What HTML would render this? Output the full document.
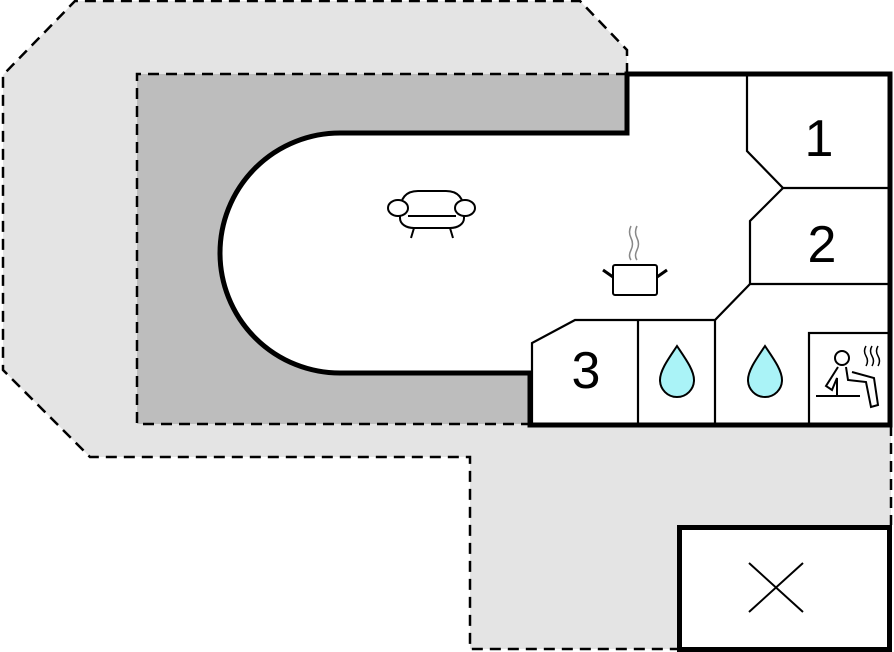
<!DOCTYPE html>
<html><head><style>html,body{margin:0;padding:0;background:#fff}svg{display:block}</style></head>
<body>
<svg width="894" height="652" viewBox="0 0 894 652" xmlns="http://www.w3.org/2000/svg">
<!-- outer terrace -->
<path d="M75,1 L580,1 L627,50 L627,74 L891,74 L891,649 L470,649 L470,457 L90,457 L3,370 L3,75 Z" fill="#e4e4e4"/>
<path d="M627,74 L627,50 L580,1 L75,1 L3,75 L3,370 L90,457 L470,457 L470,649 L677,649 M891,425 L891,525" fill="none" stroke="#000" stroke-width="2.5" stroke-dasharray="11,7"/>
<!-- inner dark terrace -->
<rect x="137" y="74" width="490" height="350" fill="#bdbdbd"/>
<path d="M627,74 L137,74 L137,424 L530,424" fill="none" stroke="#000" stroke-width="2.5" stroke-dasharray="11,7"/>
<!-- building -->
<path d="M627,74 L890,74 L890,425 L530,425 L530,373 L340,373 A120,120 0 0 1 340,133 L627,133 Z" fill="#fff"/>
<path d="M627,74 L890,74 L890,425 L530,425 L530,373 L340,373 A120,120 0 0 1 340,133 L627,133 Z" fill="none" stroke="#000" stroke-width="5" stroke-linejoin="miter"/>
<!-- interior walls -->
<g fill="none" stroke="#000" stroke-width="2.2">
<path d="M747,74 L747,151 L783,188 L890,188"/>
<path d="M783,188 L750,221 L750,284 L890,284"/>
<path d="M750,284 L715,320 L575,320 L532,343 L532,425"/>
<path d="M638,320 L638,425 M715,320 L715,425"/>
<rect x="809" y="333" width="81" height="92"/>
</g>
<g font-family="Liberation Sans, sans-serif" font-size="52" text-anchor="middle" fill="#000">
<text x="819" y="156">1</text>
<text x="822" y="262">2</text>
<text x="586" y="388">3</text>
</g>
<!-- drops -->
<g fill="#aaf3f7" stroke="#000" stroke-width="2">
<path d="M677,346 C669,358 660,370 660,380 A17,17 0 0 0 694,380 C694,370 685,358 677,346 Z"/>
<path d="M765,346 C757,358 748,370 748,380 A17,17 0 0 0 782,380 C782,370 773,358 765,346 Z"/>
</g>
<!-- sauna icon -->
<g fill="none" stroke="#000" stroke-width="2">
<circle cx="842" cy="358" r="7"/>
<path d="M838,367 L826,386 L832,390 L837,378 L837,395"/>
<path d="M846,367 L848,380 L866,382 L871,407 L878,405 L874,378 L852,372"/>
<path d="M816,396 L860,396"/>
<path d="M866,346 q-3,5 0,10 q3,5 0,10 M872,346 q-3,5 0,10 q3,5 0,10 M878,346 q-3,5 0,10 q3,5 0,10" stroke-width="1.5"/>
</g>
<!-- pot -->
<g fill="none" stroke="#000" stroke-width="2">
<rect x="613" y="265" width="44" height="30" rx="2"/>
<path d="M603,270 L613,277 M667,270 L657,277" stroke-width="3"/>
<path d="M631,226 q-3,6 0,12 q3,6 0,12 q-3,6 0,10 M637,226 q-3,6 0,12 q3,6 0,12 q-3,6 0,10" stroke="#888" stroke-width="1.5"/>
</g>
<!-- sofa -->
<g fill="#fff" stroke="#000" stroke-width="2">
<path d="M400,212 C400,196 408,191 418,191 L446,191 C456,191 464,196 464,212 L464,218 C464,224 458,228 450,228 L414,228 C406,228 400,224 400,218 Z"/>
<ellipse cx="398" cy="208" rx="10" ry="8"/>
<ellipse cx="465" cy="208" rx="10" ry="8"/>
<path d="M408,216 L456,216 M414,228 L411,238 M450,228 L453,238" fill="none"/>
</g>
<!-- garage -->
<rect x="679.5" y="527.5" width="210" height="122" fill="#fff" stroke="#000" stroke-width="5"/>
<path d="M749,563 L803,612 M803,563 L749,612" stroke="#000" stroke-width="2"/>
</svg>
</body></html>
